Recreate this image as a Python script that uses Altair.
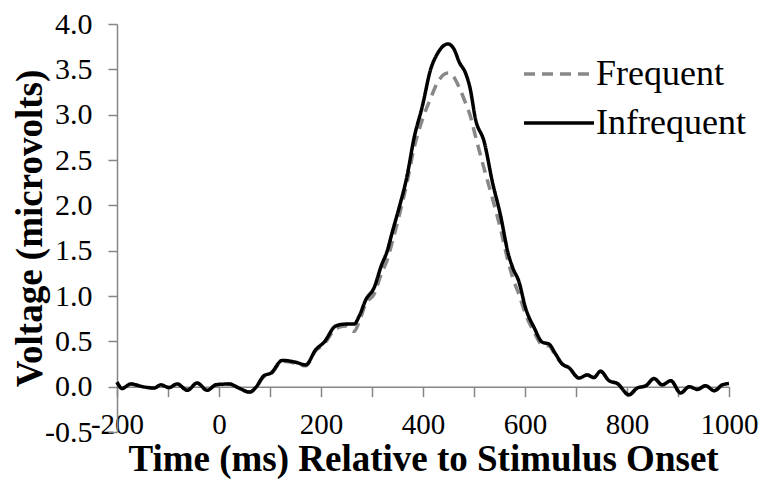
import altair as alt
import pandas as pd

# ---- data ----
time_ms = [-200, -190, -173, -150, -127, -114, -98, -82, -62, -43,
           -23, -6, 20, 39, 60, 72, 88, 102, 124, 150,
           170, 190, 206, 229, 248, 265, 275, 288, 304, 318,
           330, 340, 353, 369, 382, 399, 415, 428, 449, 461,
           471, 484, 492, 503, 520, 536, 552, 567, 576, 588,
           601, 618, 634, 647, 660, 673, 686, 706, 722, 735,
           748, 765, 781, 804, 820, 837, 853, 869, 886, 905,
           922, 938, 954, 971, 987, 1000]

infrequent = [0.05, -0.02, 0.03, 0.00, -0.015, 0.02, -0.01, 0.03, -0.04, 0.04,
              -0.04, 0.02, 0.03, -0.015, -0.06, -0.01, 0.12, 0.15, 0.29, 0.27,
              0.24, 0.41, 0.49, 0.67, 0.69, 0.69, 0.78, 0.96, 1.09, 1.33,
              1.50, 1.71, 1.97, 2.33, 2.73, 3.10, 3.50, 3.67, 3.78, 3.72,
              3.58, 3.45, 3.30, 2.95, 2.70, 2.26, 1.89, 1.47, 1.31, 1.16,
              0.87, 0.65, 0.49, 0.47, 0.36, 0.25, 0.21, 0.095, 0.13, 0.10,
              0.17, 0.065, 0.035, -0.09, -0.015, 0.01, 0.09, 0.02, 0.065, -0.07,
              0.0, -0.03, 0.01, -0.045, 0.02, 0.035]

frequent = [0.05, -0.02, 0.03, 0.00, -0.015, 0.02, -0.01, 0.03, -0.04, 0.04,
            -0.04, 0.02, 0.03, -0.015, -0.06, -0.01, 0.11, 0.14, 0.28, 0.26,
            0.23, 0.40, 0.47, 0.64, 0.67, 0.61, 0.72, 0.92, 1.02, 1.24,
            1.40, 1.60, 1.88, 2.26, 2.62, 2.95, 3.18, 3.35, 3.46, 3.41,
            3.30, 3.12, 3.00, 2.76, 2.40, 2.08, 1.74, 1.38, 1.20, 1.02,
            0.80, 0.60, 0.46, 0.45, 0.34, 0.25, 0.21, 0.095, 0.13, 0.10,
            0.17, 0.065, 0.035, -0.09, -0.015, 0.01, 0.09, 0.02, 0.065, -0.07,
            0.0, -0.03, 0.01, -0.045, 0.02, 0.035]

series_names = ["Frequent", "Infrequent"]
series_colors = ["#888888", "#000000"]
series_dashes = [[11, 7], [1, 0]]
x_ticks = list(range(-200, 1001, 100))
y_ticks = [-0.5, 0.0, 0.5, 1.0, 1.5, 2.0, 2.5, 3.0, 3.5, 4.0]

frames = []
for name, vals in zip(series_names, [frequent, infrequent]):
    frames.append(pd.DataFrame({"time": time_ms, "voltage": vals, "series": name}))
df = pd.concat(frames, ignore_index=True)

# ---- styling ----
W, H = 612, 408
FONT = "'Liberation Serif', 'Times New Roman', serif"
GREY = "#868686"
y_min, y_max = -0.5, 4.0
zero_offset = -H * (0 - y_min) / (y_max - y_min)

legend = alt.Legend(
    title=None, orient="none", legendX=424, legendY=32,
    symbolType="M-2.5,0H2.5", symbolSize=784, symbolStrokeWidth=3.5,
    labelFont=FONT, labelFontSize=36, labelColor="black", labelOffset=19,
    rowPadding=13, padding=0, labelLimit=0,
)

x_enc = alt.X(
    "time:Q",
    scale=alt.Scale(domain=[-200, 1000], nice=False, zero=False),
    axis=alt.Axis(
        values=x_ticks,
        labelExpr="datum.value % 200 == 0 ? '' + datum.value : ''",
        offset=zero_offset,
        domainColor=GREY, tickColor=GREY, tickSize=10, domainWidth=1.5, tickWidth=1.5,
        labelPadding=14, labelFont=FONT, labelFontSize=29, labelColor="black",
        labelFlush=False, labelOverlap=False, grid=False,
        title="Time (ms) Relative to Stimulus Onset",
        titleFont=FONT, titleFontSize=37, titleFontWeight="bold", titleColor="black",
        titleX=W / 2, titleY=84, titleAlign="center", titleBaseline="alphabetic",
    ),
)

y_enc = alt.Y(
    "voltage:Q",
    scale=alt.Scale(domain=[y_min, y_max], nice=False, zero=False),
    axis=alt.Axis(
        values=y_ticks,
        labelExpr="replace(format(datum.value, '.1f'), '\u2212', '-')",
        domainColor=GREY, tickColor=GREY, tickSize=9, domainWidth=1.5, tickWidth=1.5,
        labelPadding=16, labelFont=FONT, labelFontSize=30, labelColor="black",
        labelFlush=False, labelOverlap=False, grid=False,
        title="Voltage (microvolts)",
        titleFont=FONT, titleFontSize=37, titleFontWeight="bold", titleColor="black",
        titleX=-76, titleY=H / 2, titleAlign="center", titleBaseline="alphabetic",
    ),
)

color_enc = alt.Color(
    "series:N",
    scale=alt.Scale(domain=series_names, range=series_colors),
    legend=legend,
)
dash_enc = alt.StrokeDash(
    "series:N",
    scale=alt.Scale(domain=series_names, range=series_dashes),
    legend=legend,
)

base = alt.Chart(df).mark_line(strokeWidth=3.5, interpolate="monotone").encode(
    x=x_enc, y=y_enc, color=color_enc, strokeDash=dash_enc
)

freq_layer = base.transform_filter(alt.datum.series == "Frequent")
infreq_layer = base.transform_filter(alt.datum.series == "Infrequent")

chart = (
    alt.layer(freq_layer, infreq_layer)
    .properties(
        width=W, height=H,
        padding={"left": 109, "top": 16, "right": 30, "bottom": 47},
        autosize=alt.AutoSizeParams(type="none"),
        background="white",
    )
    .configure_view(stroke=None)
)

chart.save("out.html", embed_options={"renderer": "svg", "actions": False})
